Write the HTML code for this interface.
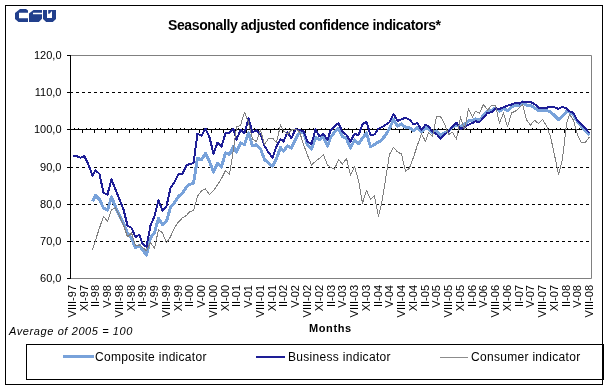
<!DOCTYPE html>
<html><head><meta charset="utf-8"><style>
html,body{margin:0;padding:0;background:#fff;}
svg{display:block;font-family:"Liberation Sans",sans-serif;}
text{filter:grayscale(1);}
.yl{font-size:11px;}
.xl{font-size:11px;}
.mo{font-size:11px;font-weight:bold;letter-spacing:0.6px;}
.avg{font-size:11px;font-style:italic;letter-spacing:0.6px;}
.ti{font-size:14px;font-weight:bold;letter-spacing:-0.38px;}
.lg{font-size:12px;letter-spacing:0.3px;}
</style></head><body>
<svg width="609" height="390" viewBox="0 0 609 390">
<rect x="5.5" y="5.5" width="597" height="379" fill="none" stroke="#000"/>
<g fill="#213f8c">
<path d="M20,9 L26,9 L28,10.5 L28,12.7 L19,12.7 L19,18.2 L28,18.2 L28,22 L18.5,22 L15,19 L15,13 Z"/>
<path d="M33.5,10 L42,10 L42,12.7 L33,12.7 L33,14.2 L42,14.2 L42,18.8 L38.8,22 L29,22 L29,13.5 Z"/>
<path fill-rule="evenodd" d="M43,10 L56,10 L56,19 L52.8,22 L46.2,22 L43,19 Z M47,10 L48.2,10 L48.2,13.8 L49.4,13.8 L52,10.9 L52,18.1 L47,18.1 Z"/>
</g>
<path d="M70,55.5 H591.5 V278.5 H70" fill="none" stroke="#808080"/>
<line x1="70" y1="92.5" x2="591" y2="92.5" stroke="#000" stroke-dasharray="3,3"/>
<line x1="70" y1="167.5" x2="591" y2="167.5" stroke="#000" stroke-dasharray="3,3"/>
<line x1="70" y1="204.5" x2="591" y2="204.5" stroke="#000" stroke-dasharray="3,3"/>
<line x1="70" y1="241.5" x2="591" y2="241.5" stroke="#000" stroke-dasharray="3,3"/>
<line x1="70.5" y1="55" x2="70.5" y2="279" stroke="#000"/>
<line x1="67" y1="55.5" x2="70" y2="55.5" stroke="#000"/>
<text x="61.5" y="59" text-anchor="end" class="yl">120,0</text>
<line x1="67" y1="92.5" x2="70" y2="92.5" stroke="#000"/>
<text x="61.5" y="96" text-anchor="end" class="yl">110,0</text>
<line x1="67" y1="129.5" x2="70" y2="129.5" stroke="#000"/>
<text x="61.5" y="133" text-anchor="end" class="yl">100,0</text>
<line x1="67" y1="167.5" x2="70" y2="167.5" stroke="#000"/>
<text x="61.5" y="171" text-anchor="end" class="yl">90,0</text>
<line x1="67" y1="204.5" x2="70" y2="204.5" stroke="#000"/>
<text x="61.5" y="208" text-anchor="end" class="yl">80,0</text>
<line x1="67" y1="241.5" x2="70" y2="241.5" stroke="#000"/>
<text x="61.5" y="245" text-anchor="end" class="yl">70,0</text>
<line x1="67" y1="278.5" x2="70" y2="278.5" stroke="#000"/>
<text x="61.5" y="282" text-anchor="end" class="yl">60,0</text>
<line x1="70" y1="129.5" x2="591" y2="129.5" stroke="#000"/>
<path d="M82.5,130V133M94.5,130V133M105.5,130V133M117.5,130V133M129.5,130V133M141.5,130V133M152.5,130V133M164.5,130V133M176.5,130V133M188.5,130V133M199.5,130V133M211.5,130V133M223.5,130V133M235.5,130V133M246.5,130V133M258.5,130V133M270.5,130V133M282.5,130V133M293.5,130V133M305.5,130V133M317.5,130V133M329.5,130V133M340.5,130V133M352.5,130V133M364.5,130V133M376.5,130V133M387.5,130V133M399.5,130V133M411.5,130V133M423.5,130V133M434.5,130V133M446.5,130V133M458.5,130V133M470.5,130V133M481.5,130V133M493.5,130V133M505.5,130V133M517.5,130V133M528.5,130V133M540.5,130V133M552.5,130V133M564.5,130V133M575.5,130V133M587.5,130V133M74.5,129V128M78.5,129V128M86.5,129V128M90.5,129V128M97.5,129V128M101.5,129V128M109.5,129V128M113.5,129V128M121.5,129V128M125.5,129V128M133.5,129V128M137.5,129V128M144.5,129V128M148.5,129V128M156.5,129V128M160.5,129V128M168.5,129V128M172.5,129V128M180.5,129V128M184.5,129V128M191.5,129V128M195.5,129V128M203.5,129V128M207.5,129V128M215.5,129V128M219.5,129V128M227.5,129V128M231.5,129V128M238.5,129V128M242.5,129V128M250.5,129V128M254.5,129V128M262.5,129V128M266.5,129V128M274.5,129V128M278.5,129V128M285.5,129V128M289.5,129V128M297.5,129V128M301.5,129V128M309.5,129V128M313.5,129V128M321.5,129V128M325.5,129V128M332.5,129V128M336.5,129V128M344.5,129V128M348.5,129V128M356.5,129V128M360.5,129V128M368.5,129V128M372.5,129V128M379.5,129V128M383.5,129V128M391.5,129V128M395.5,129V128M403.5,129V128M407.5,129V128M415.5,129V128M419.5,129V128M426.5,129V128M430.5,129V128M438.5,129V128M442.5,129V128M450.5,129V128M454.5,129V128M462.5,129V128M466.5,129V128M473.5,129V128M477.5,129V128M485.5,129V128M489.5,129V128M497.5,129V128M501.5,129V128M509.5,129V128M513.5,129V128M520.5,129V128M524.5,129V128M532.5,129V128M536.5,129V128M544.5,129V128M548.5,129V128M556.5,129V128M560.5,129V128M567.5,129V128M571.5,129V128M579.5,129V128M583.5,129V128" stroke="#000"/>
<text transform="translate(75.96,285) rotate(-90)" text-anchor="end" class="xl">VIII-97</text>
<text transform="translate(87.71,285) rotate(-90)" text-anchor="end" class="xl">XI-97</text>
<text transform="translate(99.46,285) rotate(-90)" text-anchor="end" class="xl">II-98</text>
<text transform="translate(111.21,285) rotate(-90)" text-anchor="end" class="xl">V-98</text>
<text transform="translate(122.97,285) rotate(-90)" text-anchor="end" class="xl">VIII-98</text>
<text transform="translate(134.72,285) rotate(-90)" text-anchor="end" class="xl">XI-98</text>
<text transform="translate(146.47,285) rotate(-90)" text-anchor="end" class="xl">II-99</text>
<text transform="translate(158.22,285) rotate(-90)" text-anchor="end" class="xl">V-99</text>
<text transform="translate(169.97,285) rotate(-90)" text-anchor="end" class="xl">VIII-99</text>
<text transform="translate(181.73,285) rotate(-90)" text-anchor="end" class="xl">XI-99</text>
<text transform="translate(193.48,285) rotate(-90)" text-anchor="end" class="xl">II-00</text>
<text transform="translate(205.23,285) rotate(-90)" text-anchor="end" class="xl">V-00</text>
<text transform="translate(216.98,285) rotate(-90)" text-anchor="end" class="xl">VIII-00</text>
<text transform="translate(228.73,285) rotate(-90)" text-anchor="end" class="xl">XI-00</text>
<text transform="translate(240.48,285) rotate(-90)" text-anchor="end" class="xl">II-01</text>
<text transform="translate(252.24,285) rotate(-90)" text-anchor="end" class="xl">V-01</text>
<text transform="translate(263.99,285) rotate(-90)" text-anchor="end" class="xl">VIII-01</text>
<text transform="translate(275.74,285) rotate(-90)" text-anchor="end" class="xl">XI-01</text>
<text transform="translate(287.49,285) rotate(-90)" text-anchor="end" class="xl">II-02</text>
<text transform="translate(299.24,285) rotate(-90)" text-anchor="end" class="xl">V-02</text>
<text transform="translate(311.00,285) rotate(-90)" text-anchor="end" class="xl">VIII-02</text>
<text transform="translate(322.75,285) rotate(-90)" text-anchor="end" class="xl">XI-02</text>
<text transform="translate(334.50,285) rotate(-90)" text-anchor="end" class="xl">II-03</text>
<text transform="translate(346.25,285) rotate(-90)" text-anchor="end" class="xl">V-03</text>
<text transform="translate(358.00,285) rotate(-90)" text-anchor="end" class="xl">VIII-03</text>
<text transform="translate(369.76,285) rotate(-90)" text-anchor="end" class="xl">XI-03</text>
<text transform="translate(381.51,285) rotate(-90)" text-anchor="end" class="xl">II-04</text>
<text transform="translate(393.26,285) rotate(-90)" text-anchor="end" class="xl">V-04</text>
<text transform="translate(405.01,285) rotate(-90)" text-anchor="end" class="xl">VIII-04</text>
<text transform="translate(416.76,285) rotate(-90)" text-anchor="end" class="xl">XI-04</text>
<text transform="translate(428.52,285) rotate(-90)" text-anchor="end" class="xl">II-05</text>
<text transform="translate(440.27,285) rotate(-90)" text-anchor="end" class="xl">V-05</text>
<text transform="translate(452.02,285) rotate(-90)" text-anchor="end" class="xl">VIII-05</text>
<text transform="translate(463.77,285) rotate(-90)" text-anchor="end" class="xl">XI-05</text>
<text transform="translate(475.52,285) rotate(-90)" text-anchor="end" class="xl">II-06</text>
<text transform="translate(487.27,285) rotate(-90)" text-anchor="end" class="xl">V-06</text>
<text transform="translate(499.03,285) rotate(-90)" text-anchor="end" class="xl">VIII-06</text>
<text transform="translate(510.78,285) rotate(-90)" text-anchor="end" class="xl">XI-06</text>
<text transform="translate(522.53,285) rotate(-90)" text-anchor="end" class="xl">II-07</text>
<text transform="translate(534.28,285) rotate(-90)" text-anchor="end" class="xl">V-07</text>
<text transform="translate(546.03,285) rotate(-90)" text-anchor="end" class="xl">VIII-07</text>
<text transform="translate(557.79,285) rotate(-90)" text-anchor="end" class="xl">XI-07</text>
<text transform="translate(569.54,285) rotate(-90)" text-anchor="end" class="xl">II-08</text>
<text transform="translate(581.29,285) rotate(-90)" text-anchor="end" class="xl">V-08</text>
<text transform="translate(593.04,285) rotate(-90)" text-anchor="end" class="xl">VIII-08</text>
<text x="309" y="332" class="mo">Months</text>
<text x="9" y="335" class="avg">Average of 2005 = 100</text>
<text x="168" y="30" class="ti">Seasonally adjusted confidence indicators*</text>
<path d="M92.50,201.50 L95.50,195.50 L99.50,199.50 L103.50,208.00 L107.50,210.00 L111.50,197.00 L115.50,207.00 L119.50,215.60 L123.50,223.50 L127.50,233.00 L131.50,238.60 L135.50,247.60 L139.50,245.50 L142.50,250.00 L146.50,255.00 L150.50,237.80 L154.50,232.80 L158.50,218.10 L162.50,224.60 L166.50,221.30 L170.50,207.20 L174.50,202.50 L178.50,196.50 L182.50,193.10 L186.50,187.00 L189.50,184.50 L193.50,183.00 L197.50,158.30 L201.50,159.80 L205.50,153.30 L209.50,161.50 L213.50,172.20 L217.50,163.20 L221.50,167.00 L225.50,153.00 L229.50,154.30 L233.50,146.30 L236.50,152.10 L240.50,142.70 L244.50,144.70 L248.50,133.00 L252.50,145.90 L256.50,144.70 L260.50,148.80 L264.50,159.50 L268.50,163.00 L272.50,166.30 L276.50,158.50 L280.50,147.50 L283.50,151.00 L287.50,146.00 L291.50,148.00 L295.50,139.50 L299.50,132.00 L303.50,132.00 L307.50,145.00 L311.50,149.20 L315.50,137.30 L319.50,139.70 L323.50,136.60 L327.50,146.30 L330.50,137.50 L334.50,132.20 L338.50,128.50 L342.50,136.50 L346.50,138.70 L350.50,148.20 L354.50,140.00 L358.50,143.70 L362.50,138.30 L366.50,133.00 L370.50,146.90 L374.50,144.50 L378.50,142.00 L381.50,140.40 L385.50,135.00 L389.50,128.60 L393.50,119.60 L397.50,126.20 L401.50,124.00 L405.50,127.30 L409.50,128.00 L413.50,130.50 L417.50,127.30 L421.50,131.80 L425.50,127.50 L428.50,128.70 L432.50,132.50 L436.50,131.00 L440.50,135.50 L444.50,132.70 L448.50,131.00 L452.50,126.90 L456.50,125.50 L460.50,126.60 L464.50,124.40 L468.50,121.00 L472.50,120.20 L475.50,118.90 L479.50,120.50 L483.50,115.30 L487.50,111.20 L491.50,110.40 L495.50,108.00 L499.50,111.00 L503.50,108.70 L507.50,110.60 L511.50,106.90 L515.50,104.90 L519.50,105.70 L522.50,101.80 L526.50,105.30 L530.50,105.20 L534.50,107.70 L538.50,110.60 L542.50,110.60 L546.50,110.60 L550.50,111.80 L554.50,115.50 L558.50,119.50 L562.50,116.30 L566.50,111.60 L569.50,111.80 L573.50,115.00 L577.50,121.90 L581.50,126.50 L585.50,130.60 L589.50,135.00" fill="none" stroke="#78a2da" stroke-width="3" stroke-linejoin="round" shape-rendering="crispEdges"/>
<path d="M72.50,156.10 L76.50,156.10 L80.50,157.70 L84.50,156.20 L88.50,164.80 L92.50,175.50 L95.50,170.50 L99.50,173.80 L103.50,193.00 L107.50,194.50 L111.50,179.20 L115.50,189.40 L119.50,199.50 L123.50,209.50 L127.50,225.50 L131.50,227.90 L135.50,237.00 L139.50,234.80 L142.50,244.00 L146.50,246.80 L150.50,225.50 L154.50,216.00 L158.50,200.50 L162.50,210.70 L166.50,206.00 L170.50,188.00 L174.50,182.30 L178.50,173.80 L182.50,173.80 L186.50,165.60 L189.50,164.00 L193.50,163.20 L197.50,133.60 L201.50,135.80 L205.50,128.70 L209.50,137.30 L213.50,153.70 L217.50,142.70 L221.50,146.80 L225.50,133.20 L229.50,132.80 L233.50,128.70 L236.50,139.80 L240.50,129.90 L244.50,133.20 L248.50,118.50 L252.50,132.40 L256.50,130.30 L260.50,134.40 L264.50,145.90 L268.50,152.40 L272.50,157.70 L276.50,146.50 L280.50,139.00 L283.50,141.50 L287.50,132.20 L291.50,138.20 L295.50,129.10 L299.50,130.10 L303.50,131.10 L307.50,141.50 L311.50,144.00 L315.50,129.40 L319.50,136.30 L323.50,134.00 L327.50,140.00 L330.50,130.50 L334.50,126.40 L338.50,123.10 L342.50,132.00 L346.50,134.80 L350.50,141.60 L354.50,133.80 L358.50,135.20 L362.50,124.10 L366.50,122.00 L370.50,135.00 L374.50,134.50 L378.50,128.70 L381.50,127.30 L385.50,124.90 L389.50,122.30 L393.50,114.00 L397.50,120.90 L401.50,119.30 L405.50,117.70 L409.50,119.70 L413.50,124.20 L417.50,123.00 L421.50,130.00 L425.50,124.70 L428.50,126.40 L432.50,131.80 L436.50,133.90 L440.50,138.80 L444.50,134.70 L448.50,131.40 L452.50,126.40 L456.50,122.70 L460.50,128.90 L464.50,127.20 L468.50,124.70 L472.50,123.00 L475.50,121.30 L479.50,122.10 L483.50,117.80 L487.50,112.80 L491.50,112.40 L495.50,108.10 L499.50,109.00 L503.50,107.30 L507.50,105.70 L511.50,104.50 L515.50,102.80 L519.50,103.70 L522.50,101.60 L526.50,101.80 L530.50,102.00 L534.50,104.00 L538.50,107.70 L542.50,107.70 L546.50,107.70 L550.50,106.90 L554.50,107.40 L558.50,108.80 L562.50,106.90 L566.50,108.30 L569.50,111.20 L573.50,113.00 L577.50,120.80 L581.50,124.80 L585.50,128.80 L589.50,133.00" fill="none" stroke="#1e1e96" stroke-width="2" stroke-linejoin="round" shape-rendering="crispEdges"/>
<path d="M92.50,250.10 L95.50,240.20 L99.50,227.90 L103.50,216.50 L107.50,221.20 L111.50,209.90 L115.50,207.50 L119.50,216.40 L123.50,225.00 L127.50,237.00 L131.50,232.80 L135.50,245.80 L139.50,245.00 L142.50,247.50 L146.50,250.70 L150.50,242.50 L154.50,248.30 L158.50,229.60 L162.50,232.80 L166.50,242.90 L170.50,236.80 L174.50,227.60 L178.50,221.90 L182.50,217.80 L186.50,215.30 L189.50,212.00 L193.50,210.40 L197.50,196.40 L201.50,190.70 L205.50,189.00 L209.50,194.40 L213.50,190.70 L217.50,184.90 L221.50,178.50 L225.50,170.50 L229.50,174.60 L233.50,149.20 L236.50,127.00 L240.50,125.50 L244.50,112.20 L248.50,122.50 L252.50,138.90 L256.50,141.80 L260.50,129.90 L264.50,144.70 L268.50,138.50 L272.50,138.10 L276.50,142.60 L280.50,125.00 L283.50,131.10 L287.50,134.00 L291.50,129.80 L295.50,129.30 L299.50,131.60 L303.50,144.50 L307.50,155.30 L311.50,165.00 L315.50,161.30 L319.50,158.20 L323.50,155.00 L327.50,164.90 L330.50,167.30 L334.50,169.00 L338.50,159.60 L342.50,164.00 L346.50,158.30 L350.50,175.50 L354.50,166.50 L358.50,180.50 L362.50,203.30 L366.50,190.50 L370.50,199.10 L374.50,195.90 L378.50,216.50 L381.50,204.00 L385.50,179.60 L389.50,154.40 L393.50,147.40 L397.50,151.90 L401.50,154.00 L405.50,171.50 L409.50,168.00 L413.50,157.20 L417.50,144.90 L421.50,134.00 L425.50,141.30 L428.50,132.30 L432.50,136.80 L436.50,116.50 L440.50,116.50 L444.50,123.50 L448.50,134.70 L452.50,132.30 L456.50,139.20 L460.50,116.90 L464.50,129.80 L468.50,108.70 L472.50,117.30 L475.50,111.30 L479.50,113.00 L483.50,104.40 L487.50,110.00 L491.50,105.70 L495.50,105.60 L499.50,123.30 L503.50,113.00 L507.50,127.00 L511.50,113.00 L515.50,111.00 L519.50,107.70 L522.50,104.20 L526.50,120.00 L530.50,125.10 L534.50,120.20 L538.50,123.50 L542.50,119.40 L546.50,126.00 L550.50,136.60 L554.50,155.00 L558.50,174.50 L562.50,159.00 L566.50,124.00 L569.50,114.40 L573.50,120.20 L577.50,134.60 L581.50,142.70 L585.50,142.10 L589.50,136.90" fill="none" stroke="#808080" stroke-width="1" stroke-linejoin="round" shape-rendering="crispEdges"/>
<rect x="26.5" y="344.5" width="577" height="35" fill="none" stroke="#000"/>
<line x1="63" y1="356.5" x2="94" y2="356.5" stroke="#78a2da" stroke-width="3"/>
<text x="95" y="361" class="lg">Composite indicator</text>
<line x1="256" y1="357" x2="285" y2="357" stroke="#1e1e96" stroke-width="2"/>
<text x="288" y="361" class="lg">Business indicator</text>
<line x1="440" y1="357.5" x2="468" y2="357.5" stroke="#8c8c8c" stroke-width="1"/>
<text x="471" y="361" class="lg">Consumer indicator</text>
</svg></body></html>
